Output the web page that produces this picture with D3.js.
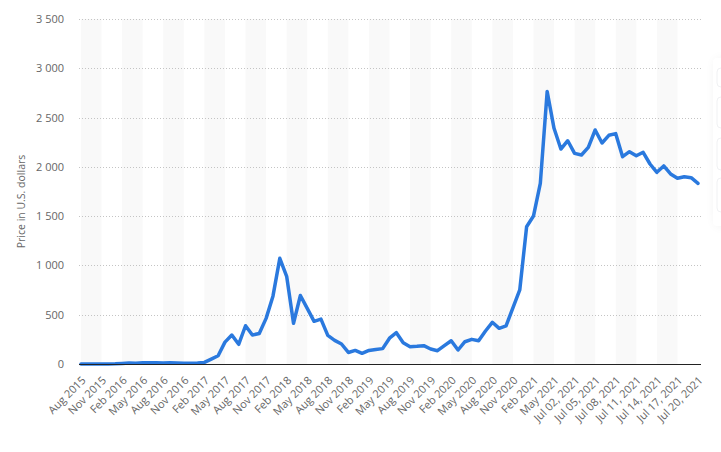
<!DOCTYPE html>
<html>
<head>
<meta charset="utf-8">
<script src="https://cdn.jsdelivr.net/npm/d3@7"></script>
<style>
  html, body { margin: 0; padding: 0; background: #fff; }
  svg { display: block; font-family: "Open Sans", "DejaVu Sans", sans-serif; }
</style>
</head>
<body>
<svg id="chart" width="721" height="452"></svg>
<script>
const categories = [
  "Aug 2015","Sep 2015","Oct 2015","Nov 2015","Dec 2015",
  "Jan 2016","Feb 2016","Mar 2016","Apr 2016","May 2016","Jun 2016","Jul 2016","Aug 2016","Sep 2016","Oct 2016","Nov 2016","Dec 2016",
  "Jan 2017","Feb 2017","Mar 2017","Apr 2017","May 2017","Jun 2017","Jul 2017","Aug 2017","Sep 2017","Oct 2017","Nov 2017","Dec 2017",
  "Jan 2018","Feb 2018","Mar 2018","Apr 2018","May 2018","Jun 2018","Jul 2018","Aug 2018","Sep 2018","Oct 2018","Nov 2018","Dec 2018",
  "Jan 2019","Feb 2019","Mar 2019","Apr 2019","May 2019","Jun 2019","Jul 2019","Aug 2019","Sep 2019","Oct 2019","Nov 2019","Dec 2019",
  "Jan 2020","Feb 2020","Mar 2020","Apr 2020","May 2020","Jun 2020","Jul 2020","Aug 2020","Sep 2020","Oct 2020","Nov 2020","Dec 2020",
  "Jan 2021","Feb 2021","Mar 2021","Apr 2021","May 2021","Jun 2021",
  "Jul 01, 2021","Jul 02, 2021","Jul 03, 2021","Jul 04, 2021","Jul 05, 2021","Jul 06, 2021","Jul 07, 2021",
  "Jul 08, 2021","Jul 09, 2021","Jul 10, 2021","Jul 11, 2021","Jul 12, 2021","Jul 13, 2021","Jul 14, 2021",
  "Jul 15, 2021","Jul 16, 2021","Jul 17, 2021","Jul 18, 2021","Jul 19, 2021","Jul 20, 2021"
];

const prices = [
  1.2, 0.9, 0.7, 0.9, 0.9,
  2.2, 6, 11, 8.8, 13, 13, 12, 11, 13, 11, 8.6, 8,
  10.7, 16, 50, 84, 222, 294, 200, 388, 294, 310, 463, 688,
  1072, 890, 413, 695, 565, 433, 455, 290, 240, 203, 117, 138,
  108, 138, 148, 156, 262, 318, 216, 176, 180, 186, 152, 135,
  186, 236, 142, 226, 250, 236, 335, 423, 362, 386, 570, 751,
  1393, 1501, 1833, 2765, 2391, 2181,
  2265, 2137, 2120, 2198, 2374, 2242, 2320,
  2337, 2103, 2154, 2113, 2148, 2029, 1945,
  2009, 1928, 1884, 1900, 1890, 1833
];

const yTicks = [0, 500, 1000, 1500, 2000, 2500, 3000, 3500];
const yTitle = "Price in U.S. dollars";

const svg = d3.select("#chart");
const plotLeft = 79, plotRight = 701, plotTop = 19, plotBottom = 364;

const x = d3.scalePoint().domain(categories).range([81, 698]);
const y = d3.scaleLinear().domain([0, 3500]).range([plotBottom, plotTop]);

// right-side toolbar shadow
const defs = svg.append("defs");
const f = defs.append("filter").attr("id", "sh").attr("x", "-50%").attr("y", "-20%").attr("width", "200%").attr("height", "140%");
f.append("feGaussianBlur").attr("stdDeviation", 6);
svg.append("rect").attr("x", 716).attr("y", 60).attr("width", 30).attr("height", 165)
  .attr("fill", "#000").attr("opacity", 0.07).attr("filter", "url(#sh)");
svg.append("rect").attr("x", 713).attr("y", 58).attr("width", 30).attr("height", 168).attr("fill", "#fff").attr("rx", 4);
[[68, 87], [97, 128], [138, 170], [178, 212]].forEach(([a, b]) => {
  svg.append("rect").attr("x", 717).attr("y", a).attr("width", 20).attr("height", b - a)
    .attr("rx", 4).attr("fill", "#fff").attr("stroke", "#f0f1f3");
});

// alternating stripes every 3 categories
const stripeIdx = d3.range(0, categories.length - 1, 6);
svg.append("g").selectAll("rect").data(stripeIdx).join("rect")
  .attr("x", i => x(categories[i]))
  .attr("y", plotTop)
  .attr("width", i => x(categories[Math.min(i + 3, categories.length - 1)]) - x(categories[i]))
  .attr("height", plotBottom - plotTop)
  .attr("fill", "#f9f9f9");

// gridlines
svg.append("g").selectAll("line").data(yTicks.filter(d => d > 0)).join("line")
  .attr("x1", plotLeft).attr("x2", plotRight)
  .attr("y1", d => Math.round(y(d)) + 0.5).attr("y2", d => Math.round(y(d)) + 0.5)
  .attr("stroke", "#c4c4c4").attr("stroke-width", 1).attr("stroke-dasharray", "1,2");

// y axis labels
const yAxis = d3.axisLeft(y).tickValues(yTicks).tickSize(0).tickPadding(0)
  .tickFormat(d => d3.format(",")(d).replace(/,/g, " "));
const gy = svg.append("g").attr("transform", `translate(64,0)`).call(yAxis);
gy.select(".domain").remove();
gy.selectAll("text").attr("fill", "#666").attr("font-size", 11)
  .attr("font-family", "'Open Sans', sans-serif");

// y title
svg.append("text")
  .attr("transform", `translate(25,${(plotTop + plotBottom) / 2 + 10}) rotate(-90)`)
  .attr("text-anchor", "middle").attr("fill", "#666").attr("font-size", 10.5)
  .text(yTitle);

// line
const line = d3.line().x((d, i) => x(categories[i])).y(d => y(d)).curve(d3.curveLinear);
svg.append("path").datum(prices)
  .attr("d", line).attr("fill", "none")
  .attr("stroke", "#2a79de").attr("stroke-width", 3.5)
  .attr("stroke-linejoin", "round").attr("stroke-linecap", "round");

// x axis
svg.append("line").attr("x1", plotLeft).attr("x2", plotRight)
  .attr("y1", plotBottom + 0.5).attr("y2", plotBottom + 0.5)
  .attr("stroke", "#222").attr("stroke-width", 1);

const xLabels = categories.filter((c, i) => i % 3 === 0);
const xAxis = d3.axisBottom(x).tickValues(xLabels).tickSize(0).tickPadding(0);
const gx = svg.append("g").attr("transform", `translate(0,${plotBottom})`).call(xAxis);
gx.select(".domain").remove();
gx.selectAll("text")
  .attr("fill", "#666").attr("font-size", 11)
  .attr("font-family", "'Open Sans', sans-serif")
  .attr("text-anchor", "end").attr("dy", null).attr("y", null)
  .attr("transform", "translate(5,17) rotate(-45)");
</script>
</body>
</html>
